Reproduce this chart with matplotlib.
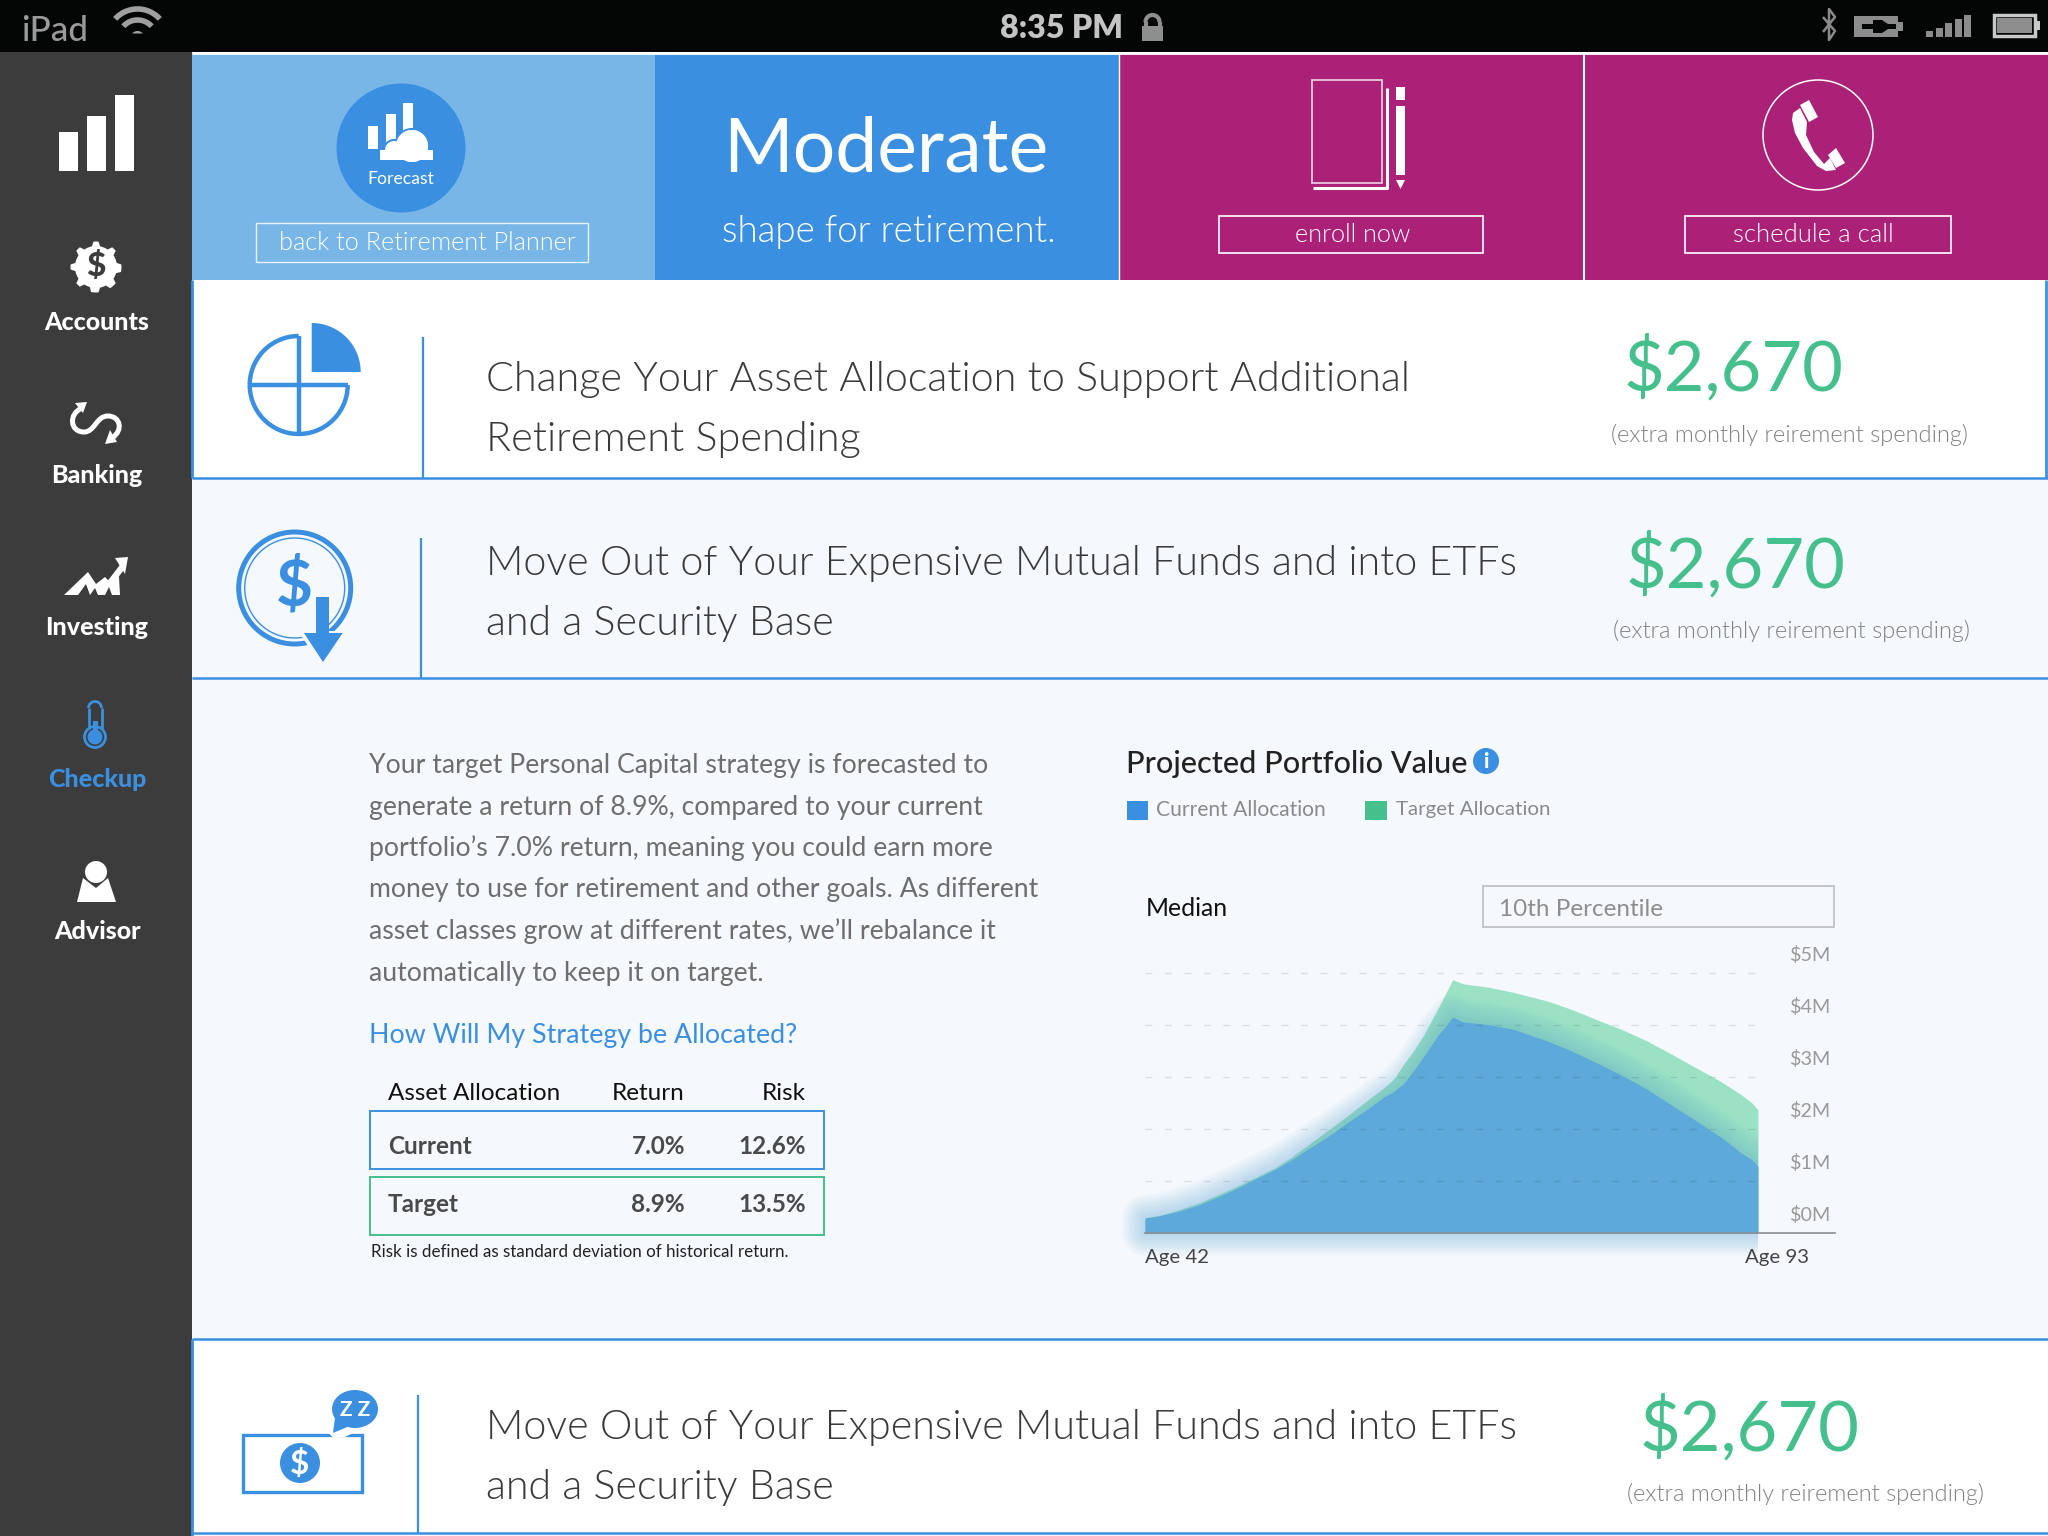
import numpy as np
import matplotlib
matplotlib.use('Agg')
import matplotlib.pyplot as plt
from matplotlib.patches import Rectangle, Circle, Ellipse, Polygon, PathPatch
from matplotlib.path import Path

plt.rcParams['font.family'] = ['Lato', 'DejaVu Sans']

# projected portfolio value, $M
ages = [42.0, 43.2, 44.5, 46.5, 49.4, 51.1, 52.8, 54.2, 55.6, 57.3, 59.0, 60.6, 61.9, 62.7, 63.5, 64.3, 65.2,
        66.4, 67.6, 68.5, 70.5, 72.6, 75.5, 77.6, 79.6, 81.7, 83.8, 85.8, 87.9, 90.0, 91.6, 92.5, 93.0]
target_values = [.29, .34, .42, .58, .87, 1.06, 1.25, 1.46, 1.70, 1.99, 2.28, 2.57, 2.80, 2.96, 3.24, 3.49, 3.81,
                 4.33, 4.87, 4.79, 4.73, 4.63, 4.46, 4.29, 4.10, 3.91, 3.69, 3.44, 3.17, 2.90, 2.66, 2.50, 2.37]
current_values = [.29, .33, .40, .54, .83, 1.03, 1.22, 1.41, 1.62, 1.87, 2.15, 2.40, 2.62, 2.72, 2.87, 3.11, 3.40,
                  3.81, 4.15, 4.06, 4.01, 3.92, 3.69, 3.49, 3.27, 3.03, 2.76, 2.46, 2.15, 1.83, 1.54, 1.41, 1.28]
y_ticks = [0, 1, 2, 3, 4, 5]
y_labels = ['$0M', '$1M', '$2M', '$3M', '$4M', '$5M']
grid_values = [1, 2, 3, 4, 5]

sidebar_labels = ['Accounts', 'Banking', 'Investing', 'Checkup', 'Advisor']
table_rows = ['Current', 'Target']
table_return = ['7.0%', '8.9%']
table_risk = ['12.6%', '13.5%']
amount = '$2,670'
amount_note = '(extra monthly reirement spending)'
paragraph = ['Your target Personal Capital strategy is forecasted to',
             'generate a return of 8.9%, compared to your current',
             'portfolio\u2019s 7.0% return, meaning you could earn more',
             'money to use for retirement and other goals. As different',
             'asset classes grow at different rates, we\u2019ll rebalance it',
             'automatically to keep it on target.']

BLUE = '#3B8FE0'
LIGHT = '#79B6E8'
MAGENTA = '#AA2177'
GREEN = '#45C08C'
PALE = '#F5F8FD'
DARK = '#3C3C3C'

fig = plt.figure(figsize=(20.48, 15.36), dpi=100, facecolor=PALE)
ui = fig.add_axes([0, 0, 1, 1])
ui.set_xlim(0, 2048)
ui.set_ylim(1536, 0)
ui.axis('off')
renderer = fig.canvas.get_renderer()


def put(x, y, s, color, width=None, size=20, weight=400, ha='left', z=5):
    t = ui.text(x, y + 2, s, color=color, fontsize=size, fontweight=weight, ha=ha, va='center', zorder=z)
    if width:
        w = t.get_window_extent(renderer).width
        t.set_fontsize(size * width / w)
    return t


def box(x0, y0, x1, y1, fc='none', ec='none', lw=0, z=1):
    ui.add_patch(Rectangle((x0, y0), x1 - x0, y1 - y0, fc=fc, ec=ec, lw=lw, zorder=z))


def poly(pts, color, z=3, **kw):
    ui.add_patch(Polygon(pts, closed=True, fc=color, ec='none', zorder=z, **kw))


def arc(cx, cy, r, a0, a1, n=60):
    a = np.radians(np.linspace(a0, a1, n))
    return np.column_stack([cx + r * np.cos(a), cy - r * np.sin(a)])


def line(pts, color, lw, z=3, **kw):
    pts = np.asarray(pts)
    ui.plot(pts[:, 0], pts[:, 1], color=color, lw=lw, zorder=z, solid_capstyle='butt', **kw)


# backgrounds
box(0, 0, 2048, 52, fc='#040505')
box(0, 52, 192, 1536, fc=DARK)
box(192, 53, 655, 280, fc=LIGHT)
box(655, 53, 1119, 280, fc=BLUE)
box(1119, 53, 2048, 280, fc=MAGENTA)
line([(192, 53), (2048, 53)], 'white', 2, z=2)
line([(1584, 53), (1584, 280)], 'white', 1.5, z=2)
line([(1119, 53), (1119, 280)], 'white', 1, z=2)
box(192, 280, 2048, 478, fc='white')
box(192, 1339, 2048, 1533, fc='white')
for y in [478, 678, 1339, 1533]:
    line([(192, y), (2048, y)], BLUE, 1.8, z=2)
line([(192, 280), (192, 478)], BLUE, 2, z=2)
line([(2046, 280), (2046, 478)], BLUE, 2, z=2)
line([(192, 1339), (192, 1536)], BLUE, 2, z=2)
line([(422.5, 337), (422.5, 478)], BLUE, 1.6)
line([(421, 538), (421, 678)], BLUE, 1.6)
line([(418, 1395), (418, 1533)], BLUE, 1.6)

# status bar
put(21, 29, 'iPad', '#9A9A9A', width=67, weight=500)
for r in [30, 19]:
    line(arc(137.5, 39, r, 42, 138), '#A0A0A0', 4)
poly(arc(137.5, 38, 7, 40, 140), '#A0A0A0')
put(1000, 27, '8:35 PM', '#C4C4C4', width=123, weight=800)
box(1142, 26, 1163, 41, fc='#8E8E8E', z=3)
line(arc(1152.5, 22, 7, 0, 180), '#8E8E8E', 3)
line([(1145.5, 22), (1145.5, 27)], '#8E8E8E', 3)
line([(1159.5, 22), (1159.5, 27)], '#8E8E8E', 3)
line([(1823, 17), (1835, 31), (1829, 40), (1829, 9), (1835, 17), (1823, 32)], '#8A8A8A', 1.8)
box(1854, 16, 1898, 37, fc='#8C8C8C', z=3)
box(1898, 22, 1903, 31, fc='#8C8C8C', z=3)
box(1862, 24, 1874, 29, fc='#040505', z=4)
poly([(1873, 20), (1882, 20), (1888, 24), (1896, 24), (1896, 29), (1888, 29), (1882, 33), (1873, 33)], '#040505', z=4)
for i, h in enumerate([6, 9, 14, 18, 22]):
    box(1926 + i * 9.5, 37 - h, 1933 + i * 9.5, 37, fc='#8C8C8C', z=3)
ui.add_patch(Rectangle((1994, 15), 41, 21, fc='none', ec='#C8C8C8', lw=2.5, zorder=3))
box(1997, 18, 2032, 33, fc='#8E8E8E', z=3)
box(2036, 21, 2040, 30, fc='#C8C8C8', z=3)

# sidebar icons
for x0, top in zip([58.5, 86.6, 114.7], [132, 116, 95]):
    box(x0, top, x0 + 19.2, 171, fc='white', z=3)

teeth = np.linspace(0, 2 * np.pi, 65)
radius = 21 + 4.5 * (np.cos(8 * teeth) > 0)
poly(np.column_stack([96 + radius * np.cos(teeth), 267 + radius * np.sin(teeth)]), 'white')
put(96, 264, '$', DARK, size=24, weight=900, ha='center')

banking = Path([(82, 408), (68, 414), (70, 432), (84, 432), (95, 432), (96, 416), (108, 416),
                (120, 416), (124, 430), (112, 438)],
               [Path.MOVETO] + [Path.CURVE4] * 9)
ui.add_patch(PathPatch(banking, fc='none', ec='white', lw=3.6, zorder=3))
poly([(75, 403), (87, 402), (83, 413)], 'white')
poly([(105, 444), (117, 442), (110, 430)], 'white')

poly([(64, 595), (88, 572), (96, 584), (105, 577), (112, 584), (119, 576), (120, 595),
      (112, 595), (109, 587), (105, 595), (98, 595), (95, 588), (90, 595), (86, 584), (78, 595)], 'white')
line([(110, 583), (123, 566)], 'white', 4.5)
poly([(115, 558), (128, 557), (125, 574)], 'white')

ui.add_patch(Circle((95, 737), 10.5, fc='none', ec=BLUE, lw=2, zorder=3))
line([(88.5, 729), (88.5, 708)], BLUE, 2)
line([(101.5, 729), (101.5, 708)], BLUE, 2)
line(arc(95, 708, 6.5, 0, 180), BLUE, 2)
ui.add_patch(Circle((95, 737), 7.5, fc=BLUE, zorder=3))
box(92.5, 721, 97.5, 735, fc=BLUE, z=3)

ui.add_patch(Circle((96, 872), 11, fc='white', zorder=3))
poly([(77, 902), (83, 878), (96, 888), (108, 878), (116, 902)], 'white')

for label, y, c in zip(sidebar_labels, [320, 473.5, 625.5, 777.5, 929.5], ['white', 'white', 'white', BLUE, 'white']):
    put(97, y, label, c, size=18, weight=900, ha='center')

# top panels
ui.add_patch(Circle((401, 148), 64.5, fc=BLUE, zorder=2))
for x0, top in zip([368, 386, 403], [126, 114, 103]):
    box(x0, top, x0 + 10, 149, fc='white', z=3)
ui.add_patch(Circle((412, 146), 17, fc='white', ec=BLUE, lw=1.5, zorder=4))
ui.add_patch(Circle((394, 150), 10, fc='white', ec=BLUE, lw=1.5, zorder=4))
ui.add_patch(Circle((412, 146), 16, fc='white', zorder=4.1))
ui.add_patch(Rectangle((380, 150), 53, 10, fc='white', zorder=4.2))
put(401, 177, 'Forecast', 'white', width=67, ha='center')
ui.add_patch(Rectangle((256, 223), 332, 39, fc='none', ec='white', lw=1, alpha=.85, zorder=3))
put(279, 241, 'back to Retirement Planner', 'white', width=297, weight=300)

put(723, 148, 'Moderate', 'white', width=326)
put(722, 230, 'shape for retirement.', 'white', width=334, weight=300)

ui.add_patch(Rectangle((1312, 80), 70, 103, fc='none', ec='#E8C8DC', lw=1.3, zorder=3))
line([(1313, 188), (1387, 188), (1387, 88)], 'white', 2.2)
box(1396, 87, 1405, 100, fc='white', z=3)
box(1396, 106, 1405, 175, fc='white', z=3)
poly([(1396, 180), (1405, 180), (1400.5, 189)], 'white')
ui.add_patch(Rectangle((1218.5, 216), 264.5, 37, fc='none', ec='white', lw=1.2, zorder=3))
put(1353, 233, 'enroll now', 'white', width=116, weight=300, ha='center')

ui.add_patch(Circle((1818, 135), 55, fc='none', ec='white', lw=1.1, zorder=3))
poly([(1800, 105), (1809, 100), (1818, 117), (1809, 122)], 'white')
poly([(1792, 120), (1793, 113), (1800, 108), (1807, 122), (1806, 135), (1814, 152), (1824, 164),
      (1830, 158), (1836, 170), (1826, 171), (1817, 166), (1803, 148), (1795, 133)], 'white')
poly([(1828, 155), (1836, 148), (1845, 163), (1836, 168)], 'white')
ui.add_patch(Rectangle((1685, 216), 266, 37, fc='none', ec='white', lw=1.2, zorder=3))
put(1813, 233, 'schedule a call', 'white', width=160, weight=300, ha='center')

# row icons
pie = np.vstack([[(311.7, 372)], arc(311.7, 372, 49, 0, 90)])
poly(pie, BLUE)
line(arc(298.7, 385, 49, 90, 360), BLUE, 3.2)
line([(250, 385), (347.7, 385)], BLUE, 3.2)
line([(298.7, 336), (298.7, 434)], BLUE, 3.2)

ui.add_patch(Circle((294.7, 588), 56, fc='none', ec=BLUE, lw=3.6, zorder=3))
ui.add_patch(Circle((294.7, 588), 50, fc='none', ec=BLUE, lw=1, zorder=3))
put(294, 584, '$', BLUE, size=46, weight=700, ha='center')
poly([(298, 631), (348, 631), (323, 668)], PALE, z=3)
box(315.7, 597, 329, 633, fc=BLUE, z=4)
poly([(304, 633), (342.7, 633), (323, 662)], BLUE, z=4)

ui.add_patch(Rectangle((243, 1435), 119, 57, fc='none', ec=BLUE, lw=2.4, zorder=3))
ui.add_patch(Circle((300, 1463), 20, fc=BLUE, zorder=4))
put(300, 1462, '$', 'white', size=24, weight=700, ha='center')
poly([(327, 1431), (333, 1438), (345, 1437), (357, 1431)], 'white', z=3.4)
ui.add_patch(Ellipse((355, 1409), 46, 38, fc=BLUE, zorder=4))
poly([(336, 1410), (333, 1433), (352, 1425)], BLUE, z=4)
put(355, 1408, 'Z Z', 'white', size=15, weight=700, ha='center')

# rows
row_text = [('Change Your Asset Allocation to Support Additional', 'Retirement Spending', 378, 438, 926),
            ('Move Out of Your Expensive Mutual Funds and into ETFs', 'and a Security Base', 562, 622, 1032),
            ('Move Out of Your Expensive Mutual Funds and into ETFs', 'and a Security Base', 1426, 1486, 1032)]
for a, b, y0, y1, w in row_text:
    t = put(486, y0, a, '#3A3A3A', width=w, weight=300)
    put(486, y1, b, '#3A3A3A', size=t.get_fontsize(), weight=300)

for x, y0, y1 in [(1624, 367, 433), (1626, 564, 629), (1640, 1427, 1492)]:
    put(x, y0, amount, GREEN, width=220)
    put(x - 13, y1, amount_note, '#808080', width=358, weight=300)

# paragraph and table
for s, y in zip(paragraph, [764, 806, 846, 888, 929, 971]):
    put(369, y, s, '#6E6E6E', size=19.2)
put(369, 1033, 'How Will My Strategy be Allocated?', BLUE, width=427)

put(388, 1092, 'Asset Allocation', '#111111', size=17.5)
put(685, 1092, 'Return', '#111111', size=17.5, ha='right')
put(806, 1092, 'Risk', '#111111', size=17.5, ha='right')
ui.add_patch(Rectangle((370, 1111), 454, 58, fc='none', ec=BLUE, lw=1.4, zorder=3))
ui.add_patch(Rectangle((370, 1177), 454, 58, fc='none', ec=GREEN, lw=1.4, zorder=3))
for label, ret, risk, y in zip(table_rows, table_return, table_risk, [1144, 1203]):
    put(388, y, label, '#4A4A4A', size=17.5, weight=700)
    put(685, y, ret, '#4A4A4A', size=17.5, weight=700, ha='right')
    put(806, y, risk, '#4A4A4A', size=17.5, weight=700, ha='right')
put(371, 1250, 'Risk is defined as standard deviation of historical return.', '#222222', width=419)

# chart header
put(1126, 762, 'Projected Portfolio Value', '#222222', width=341, weight=500)
ui.add_patch(Circle((1486, 761), 13, fc=BLUE, zorder=3))
put(1486, 759, 'i', 'white', size=15, weight=900, ha='center')
box(1127, 801, 1148, 820, fc=BLUE, z=3)
put(1156, 808, 'Current Allocation', '#8A8A8A', width=170)
box(1365, 801, 1387, 820, fc=GREEN, z=3)
put(1396, 808, 'Target Allocation', '#8A8A8A', width=154)
put(1146, 906, 'Median', '#111111', size=17.8)
ui.add_patch(Rectangle((1482.5, 886), 351.5, 41, fc='none', ec='#C4C6CA', lw=1.4, zorder=3))
put(1499, 907, '10th Percentile', '#8E8E8E', size=17.5)

# projected value chart, axes span px 1145..1835 across, 1233 up to 963
ax = fig.add_axes([1145 / 2048, 1 - 1233 / 1536, 690 / 2048, 270 / 1536])
ax.patch.set_alpha(0)
ax.set_xlim(42, 42 + 690 / 613 * 51)
ax.set_ylim(0, 270 / 52)
ax.fill_between(ages, target_values, color='#9BE2C4', lw=0, zorder=2)

# soft shadow around the blue area, stays left of the hard right edge
clip = Rectangle((36, -1), 57, 8, transform=ax.transData)
for lw in np.arange(3, 36, 3):
    glow, = ax.plot([93, 42] + ages, [0, 0] + current_values, color='#5CA9DA', lw=lw, alpha=.04,
                    zorder=3, clip_on=True, solid_joinstyle='round')
    glow.set_clip_path(clip)
ax.fill_between(ages, current_values, color='#5CA9DA', lw=0, zorder=4)
ax.hlines(grid_values, 42, 93, color='black', alpha=.1, lw=1, linestyles=(0, (5, 9)), zorder=5)
for s in ['top', 'left', 'right']:
    ax.spines[s].set_visible(False)
ax.spines['bottom'].set_color('#8A8F96')
ax.spines['bottom'].set_linewidth(1.2)
ax.spines['bottom'].set_zorder(6)
ax.set_yticks([])
ax.set_xticks([])
for v, s in zip(y_ticks, y_labels):
    ax.annotate(s, xy=(93, v), xytext=(32, 18), textcoords='offset pixels', fontsize=14.2,
                color='#9A9A9A', va='center', ha='left', zorder=6)
ax.annotate('Age 42', xy=(42, 0), xytext=(0, -25), textcoords='offset pixels', fontsize=14.7,
            color='#444444', va='center', ha='left')
ax.annotate('Age 93', xy=(93, 0), xytext=(-13, -25), textcoords='offset pixels', fontsize=14.7,
            color='#444444', va='center', ha='left')

fig.savefig('out.png', dpi=100, facecolor=PALE)
